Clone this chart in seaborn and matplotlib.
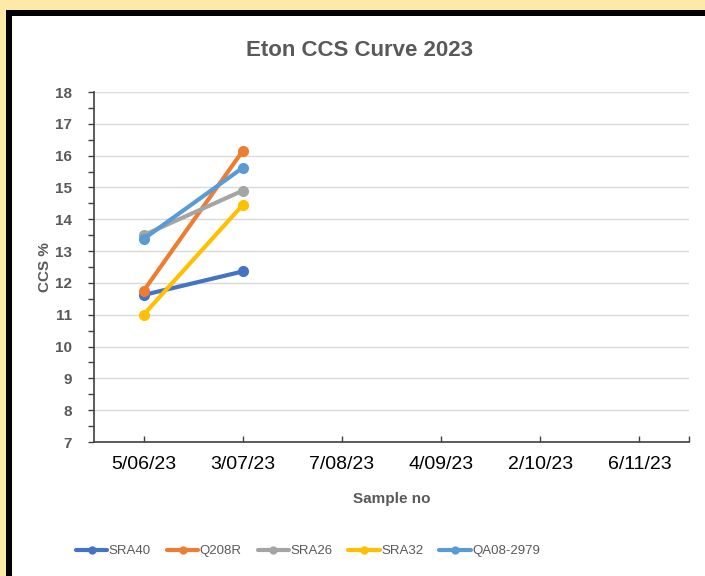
import matplotlib
matplotlib.use("Agg")
import matplotlib.pyplot as plt
from matplotlib.patches import Rectangle
from matplotlib.ticker import MultipleLocator, FixedLocator
import seaborn as sns
import pandas as pd

# ---- data ----
dates = ["5/06/23", "3/07/23", "7/08/23", "4/09/23", "2/10/23", "6/11/23"]
sra40 = [11.62, 12.36]
q208r = [11.75, 16.15]
sra26 = [13.5, 14.9]
sra32 = [11.0, 14.45]
qa08_2979 = [13.38, 15.62]
series_names = ["SRA40", "Q208R", "SRA26", "SRA32", "QA08-2979"]
series_values = [sra40, q208r, sra26, sra32, qa08_2979]
colors = ["#4472C4", "#ED7D31", "#A5A5A5", "#FFC000", "#5B9BD5"]

rows = []
for name, vals in zip(series_names, series_values):
    for i, v in enumerate(vals):
        rows.append({"pos": i, "date": dates[i], "CCS": v, "variety": name})
df = pd.DataFrame(rows)

sns.set_theme(style="white")
plt.rcParams["font.family"] = ["Liberation Sans", "DejaVu Sans"]

W, H = 705, 576
fig = plt.figure(figsize=(W / 100, H / 100), dpi=100)
fig.patch.set_facecolor("#FFE9A8")

# white panel with black frame on top/left
fig.add_artist(Rectangle((6 / W, 0), (W - 6) / W, (H - 10) / H, transform=fig.transFigure,
                         facecolor="black", edgecolor="none", zorder=0))
fig.add_artist(Rectangle((12 / W, 0), (W - 12) / W, (H - 16) / H, transform=fig.transFigure,
                         facecolor="white", edgecolor="none", zorder=0))

ax = fig.add_axes([94 / W, 1 - 442 / H, (689 - 94) / W, (442 - 92) / H])
ax.set_facecolor("none")

sns.lineplot(data=df, x="pos", y="CCS", hue="variety", hue_order=series_names,
             palette=colors, marker="o", markersize=8, markeredgewidth=0,
             linewidth=3, ax=ax, legend=True)

ax.set_xlim(-0.5, len(dates) - 0.5)
ax.set_ylim(7, 18)
ax.set_xticks(range(len(dates)))
ax.set_xticklabels(dates, fontsize=14, color="black")
ax.xaxis.set_minor_locator(FixedLocator([len(dates) - 0.5]))
ax.yaxis.set_major_locator(MultipleLocator(1))
ax.yaxis.set_minor_locator(MultipleLocator(0.5))
for lab in ax.get_yticklabels():
    lab.set_fontsize(11)
    lab.set_fontweight("bold")
    lab.set_color("#595959")

ax.grid(axis="y", color="#D9D9D9", linewidth=1)
ax.set_axisbelow(True)
for s in ["top", "right"]:
    ax.spines[s].set_visible(False)
for s in ["left", "bottom"]:
    ax.spines[s].set_color("#404040")
    ax.spines[s].set_linewidth(1.2)

ax.tick_params(axis="x", which="both", direction="in", length=4, color="#404040", width=1, pad=10,
               bottom=True)
ax.tick_params(axis="y", which="major", direction="out", length=4, color="#404040", width=1,
               pad=12, left=True)
ax.tick_params(axis="y", which="minor", direction="out", length=4, color="#404040", width=1, left=True)

ax.set_xlabel("Sample no", fontsize=11, fontweight="bold", color="#595959", labelpad=14)
ax.set_ylabel("CCS %", fontsize=11, fontweight="bold", color="#595959", labelpad=2)

fig.text(360 / W, 1 - 50 / H, "Eton CCS Curve 2023", ha="center", va="center",
         fontsize=16, fontweight="bold", color="#595959")

handles, labels = ax.get_legend_handles_labels()
ax.legend_.remove()
for h in handles:
    h.set_markersize(6)
leg = fig.legend(handles, labels, loc="center", bbox_to_anchor=(308 / W, 1 - 551 / H),
                 ncol=5, frameon=False, fontsize=9.5, handlelength=2.4, handletextpad=0.1,
                 columnspacing=1.2)
for t in leg.get_texts():
    t.set_color("#595959")

fig.savefig("out.png", dpi=100, facecolor=fig.get_facecolor())
